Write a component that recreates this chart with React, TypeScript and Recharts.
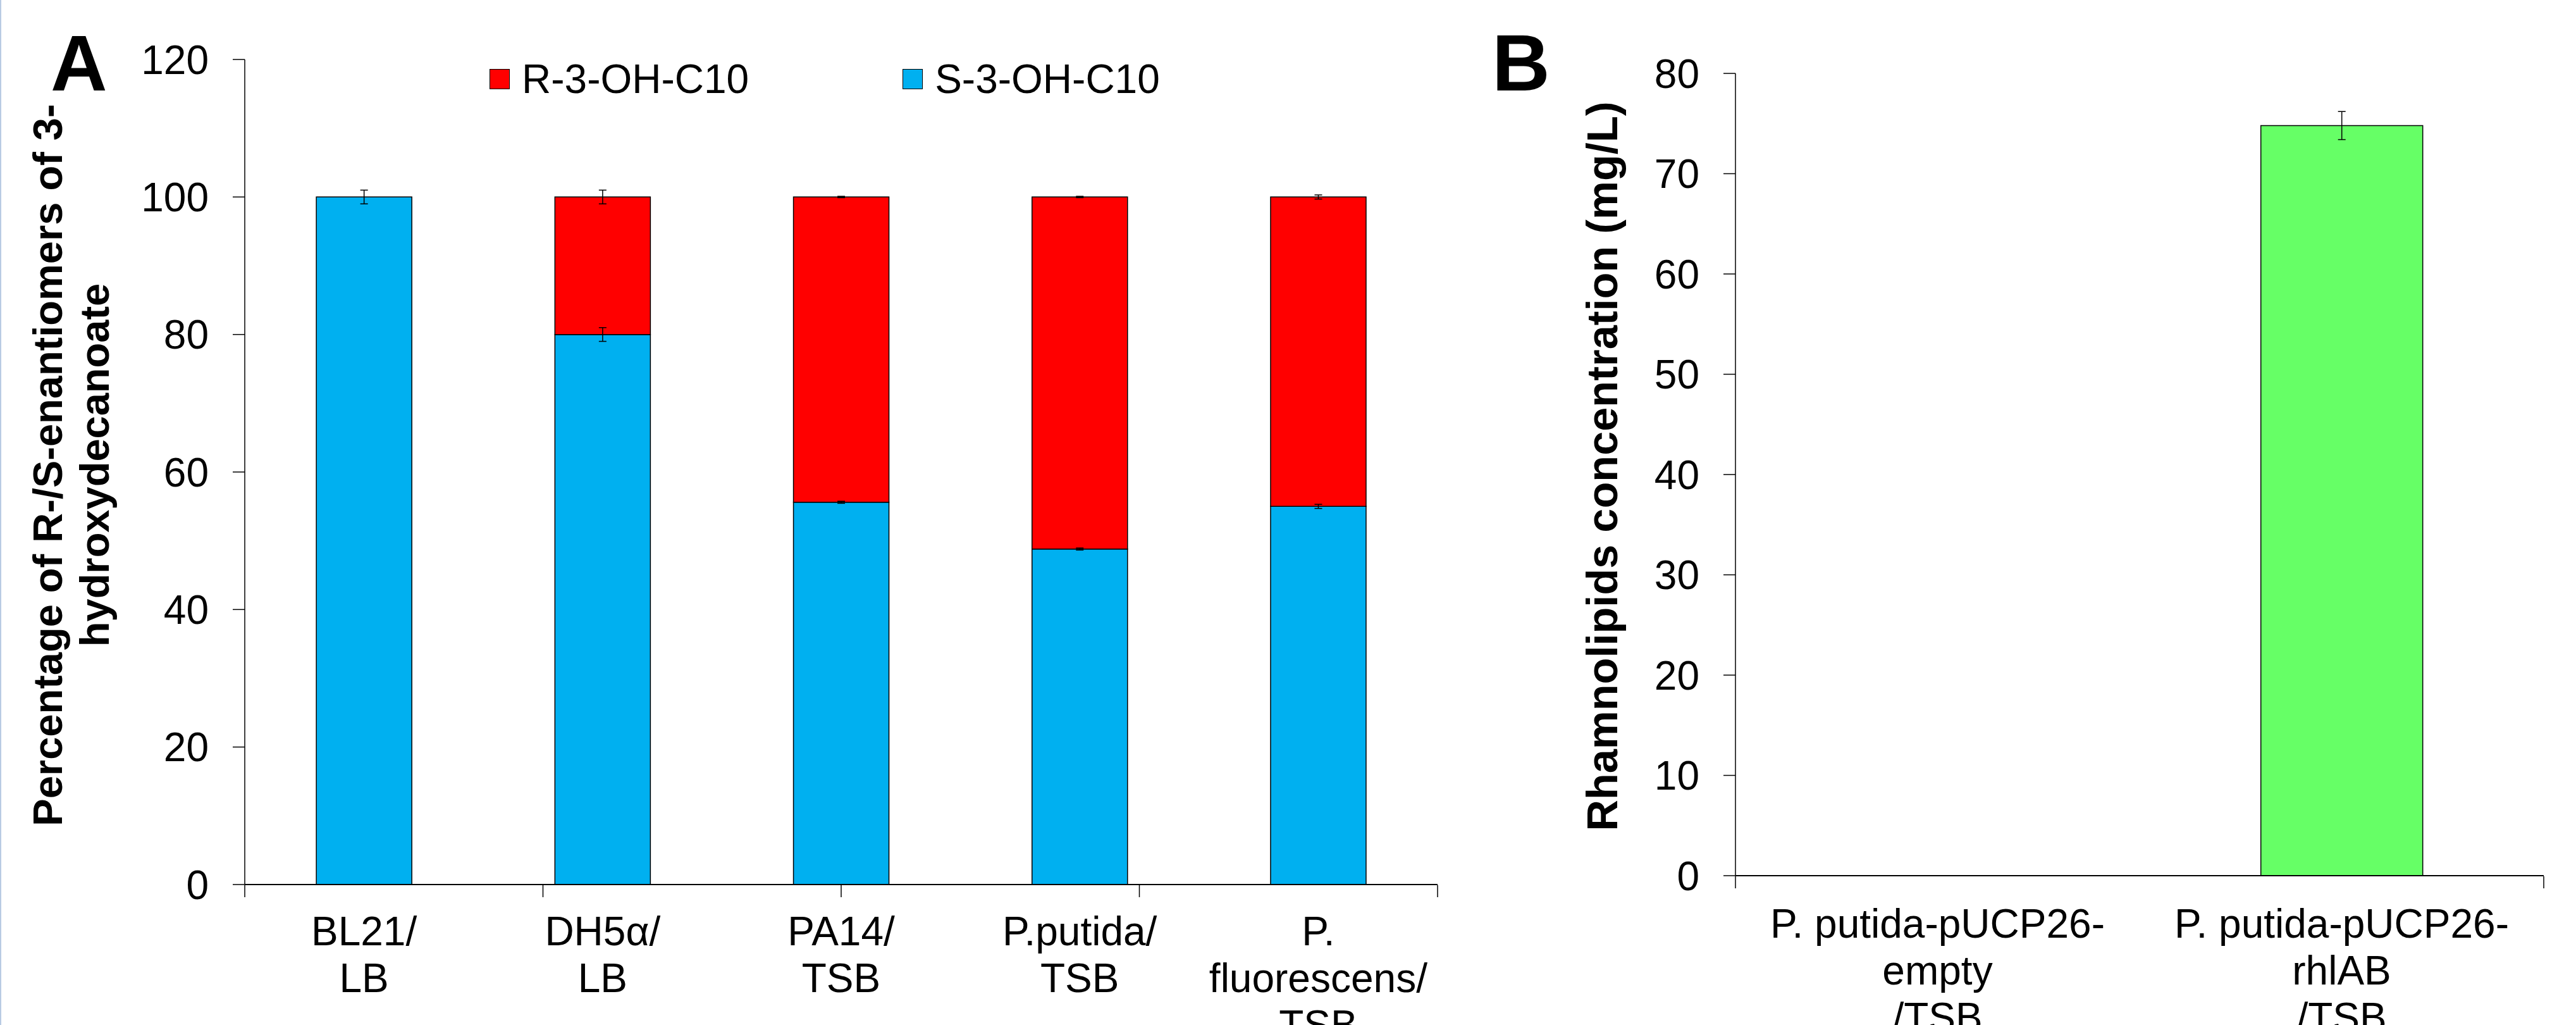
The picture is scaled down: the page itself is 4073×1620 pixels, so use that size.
import React from 'react';
import { BarChart, Bar, XAxis, YAxis, ErrorBar, Legend } from 'recharts';

// ---------- Panel A data ----------
const categoriesA = ['BL21/\nLB', 'DH5α/\nLB', 'PA14/\nTSB', 'P.putida/\nTSB', 'P.\nfluorescens/\nTSB'];
const sValues = [100, 80.0, 55.6, 48.8, 55.0];
const rValues = [0, 20.0, 44.4, 51.2, 45.0];
const sErrors = [1.0, 1.0, 0.15, 0.15, 0.3];
const rErrors = [1.0, 1.0, 0.1, 0.1, 0.3];
const yTicksA = [0, 20, 40, 60, 80, 100, 120];
const seriesNamesA = ['R-3-OH-C10', 'S-3-OH-C10'];

// ---------- Panel B data ----------
const categoriesB = ['P. putida-pUCP26-\nempty\n/TSB', 'P. putida-pUCP26-\nrhlAB\n/TSB'];
const rhamnoValues = [0, 74.8];
const rhamnoErrors = [0, 1.4];
const yTicksB = [0, 10, 20, 30, 40, 50, 60, 70, 80];

const dataA = categoriesA.map((name, i) => ({
  name,
  s: sValues[i],
  r: rValues[i],
  sErr: sErrors[i],
  rErr: rErrors[i],
}));
const dataB = categoriesB.map((name, i) => ({ name, v: rhamnoValues[i], err: rhamnoErrors[i] }));
const edgesA = categoriesA.map((_, i) => i).concat([categoriesA.length]);
const edgesB = categoriesB.map((_, i) => i).concat([categoriesB.length]);

const FONT = '"Liberation Sans", Arial, Helvetica, sans-serif';
const FS = 64;
const LINE = 74;

const makeTick = (firstDy: number) => (props: any) => {
  const { x, y, payload } = props;
  const lines = String(payload.value).split('\n');
  return (
    <text x={x} y={y} textAnchor="middle" fontSize={FS} fill="#000" fontFamily={FONT}>
      {lines.map((l, i) => (
        <tspan key={i} x={x} dy={i === 0 ? firstDy : LINE}>
          {l}
        </tspan>
      ))}
    </text>
  );
};

const emptyTick = () => <g />;

const titleA = () => (
  <text
    transform="rotate(-90 98 735)"
    x={98}
    y={735}
    textAnchor="middle"
    fontSize={65}
    fontWeight="bold"
    fill="#000"
    fontFamily={FONT}
  >
    <tspan x={98} dy={0}>Percentage of R-/S-enantiomers of 3-</tspan>
    <tspan x={98} dy={74}>hydroxydecanoate</tspan>
  </text>
);

const titleB = () => (
  <text
    transform="rotate(-90 157 737)"
    x={157}
    y={737}
    textAnchor="middle"
    fontSize={68.5}
    fontWeight="bold"
    fill="#000"
    fontFamily={FONT}
  >
    Rhamnolipids concentration (mg/L)
  </text>
);

const colorA: Record<string, string> = { 'R-3-OH-C10': '#FF0000', 'S-3-OH-C10': '#00B0F0' };

const LegendA = () => (
  <div style={{ display: 'flex', alignItems: 'center', fontSize: FS, fontFamily: FONT, color: '#000' }}>
    {seriesNamesA.map((n, i) => (
      <div key={n} style={{ display: 'flex', alignItems: 'center', marginRight: i === 0 ? 243 : 0 }}>
        <span
          style={{
            display: 'inline-block',
            width: 30,
            height: 30,
            background: colorA[n],
            border: '1.5px solid #000',
            marginRight: 19,
          }}
        />
        <span style={{ whiteSpace: 'nowrap' }}>{n}</span>
      </div>
    ))}
  </div>
);

export default function App() {
  return (
    <div
      style={{
        position: 'absolute',
        left: 0,
        top: 0,
        width: 4073,
        height: 1620,
        overflow: 'hidden',
        background: '#fff',
        fontFamily: FONT,
      }}
    >
      <div style={{ position: 'absolute', left: 0, top: 0, width: 2, height: 1620, background: '#b9cbe3' }} />

      <div style={{ position: 'absolute', left: 0, top: 0 }}>
        <BarChart
          width={2400}
          height={1620}
          data={dataA}
          margin={{ top: 94, right: 127, bottom: 220, left: 0 }}
          barCategoryGap="30%"
        >
          <XAxis
            dataKey="name"
            type="category"
            interval={0}
            height={1}
            tickLine={false}
            tickSize={0}
            tickMargin={0}
            axisLine={{ stroke: '#000', strokeWidth: 2 }}
            tick={makeTick(96)}
          />
          <XAxis
            xAxisId="edges"
            type="number"
            domain={[0, categoriesA.length]}
            allowDataOverflow
            ticks={edgesA}
            interval={0}
            height={1}
            tick={emptyTick}
            axisLine={false}
            tickSize={19}
            tickLine={{ stroke: '#000', strokeWidth: 1.5 }}
          />
          <YAxis
            width={387}
            domain={[0, 120]}
            ticks={yTicksA}
            interval={0}
            tickSize={19}
            tickMargin={38}
            axisLine={{ stroke: '#000', strokeWidth: 1.5 }}
            tickLine={{ stroke: '#000', strokeWidth: 1.5 }}
            tick={{ fontSize: FS, fill: '#000', fontFamily: FONT }}
            label={titleA}
          />
          <Legend
            layout="horizontal"
            verticalAlign="middle"
            align="center"
            content={<LegendA />}
            wrapperStyle={{ left: 774, top: 88, width: 1300, height: 72 }}
          />
          <Bar
            dataKey="s"
            name="S-3-OH-C10"
            stackId="a"
            fill="#00B0F0"
            stroke="#000"
            strokeWidth={1.5}
            isAnimationActive={false}
          >
            <ErrorBar dataKey="sErr" width={6} stroke="#000" strokeWidth={1.5} direction="y" />
          </Bar>
          <Bar
            dataKey="r"
            name="R-3-OH-C10"
            stackId="a"
            fill="#FF0000"
            stroke="#000"
            strokeWidth={1.5}
            isAnimationActive={false}
          >
            <ErrorBar dataKey="rErr" width={6} stroke="#000" strokeWidth={1.5} direction="y" />
          </Bar>
        </BarChart>
      </div>

      <div style={{ position: 'absolute', left: 2400, top: 0 }}>
        <BarChart
          width={1673}
          height={1620}
          data={dataB}
          margin={{ top: 116, right: 51, bottom: 234, left: 0 }}
          barCategoryGap="30%"
        >
          <XAxis
            dataKey="name"
            type="category"
            interval={0}
            height={1}
            tickLine={false}
            tickSize={0}
            tickMargin={0}
            axisLine={{ stroke: '#000', strokeWidth: 2 }}
            tick={makeTick(98)}
          />
          <XAxis
            xAxisId="edges"
            type="number"
            domain={[0, categoriesB.length]}
            allowDataOverflow
            ticks={edgesB}
            interval={0}
            height={1}
            tick={emptyTick}
            axisLine={false}
            tickSize={19}
            tickLine={{ stroke: '#000', strokeWidth: 1.5 }}
          />
          <YAxis
            width={344}
            domain={[0, 80]}
            ticks={yTicksB}
            interval={0}
            tickSize={19}
            tickMargin={38}
            axisLine={{ stroke: '#000', strokeWidth: 1.5 }}
            tickLine={{ stroke: '#000', strokeWidth: 1.5 }}
            tick={{ fontSize: FS, fill: '#000', fontFamily: FONT }}
            label={titleB}
          />
          <Bar dataKey="v" fill="#66FF66" stroke="#000" strokeWidth={1.5} isAnimationActive={false}>
            <ErrorBar dataKey="err" width={6} stroke="#000" strokeWidth={1.5} direction="y" />
          </Bar>
        </BarChart>
      </div>

      <svg
        width={4073}
        height={1620}
        style={{ position: 'absolute', left: 0, top: 0, pointerEvents: 'none' }}
      >
        <text x={80} y={143} fontSize={124} fontWeight="bold" fill="#000" fontFamily={FONT}>
          A
        </text>
        <text x={2359} y={143} fontSize={127} fontWeight="bold" fill="#000" fontFamily={FONT}>
          B
        </text>
      </svg>
    </div>
  );
}
